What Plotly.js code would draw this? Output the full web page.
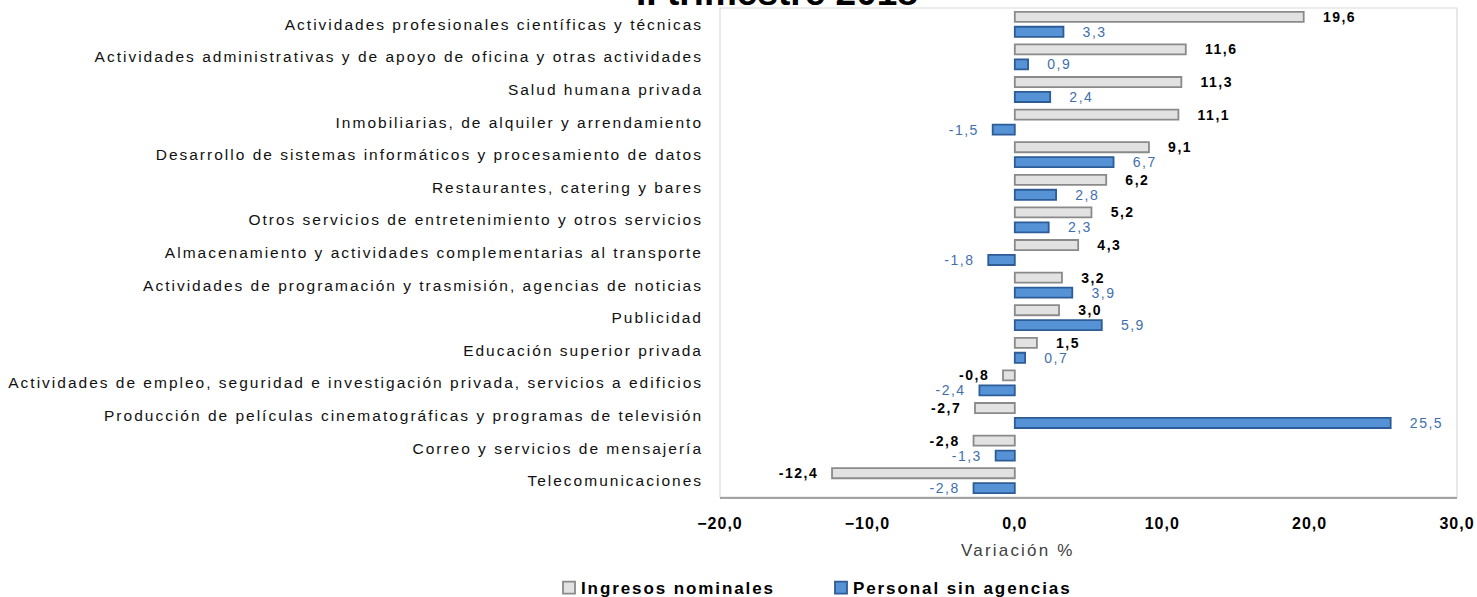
<!DOCTYPE html>
<html>
<head>
<meta charset="utf-8">
<script src="https://cdn.plot.ly/plotly-3.0.1.min.js"></script>
<style>
html,body{margin:0;padding:0;background:#fff;}
#chart{width:1477px;height:597px;}
.ytick text{letter-spacing:2px;}
.xtick text{letter-spacing:1px;}
.bartext{letter-spacing:1.5px;}
.legendtext{letter-spacing:1.9px;transform:translateX(-8px);}
.annotation-text{letter-spacing:2.2px;}
</style>
</head>
<body>
<div id="chart"></div>
<script>
const categories = [
  "Actividades profesionales científicas y técnicas",
  "Actividades administrativas y de apoyo de oficina y otras actividades",
  "Salud humana privada",
  "Inmobiliarias, de alquiler y arrendamiento",
  "Desarrollo de sistemas informáticos y procesamiento de datos",
  "Restaurantes, catering y bares",
  "Otros servicios de entretenimiento y otros servicios",
  "Almacenamiento y actividades complementarias al transporte",
  "Actividades de programación y trasmisión, agencias de noticias",
  "Publicidad",
  "Educación superior privada",
  "Actividades de empleo, seguridad e investigación privada, servicios a edificios",
  "Producción de películas cinematográficas y programas de televisión",
  "Correo y servicios de mensajería",
  "Telecomunicaciones"
];
const ingresosNominales = [19.6, 11.6, 11.3, 11.1, 9.1, 6.2, 5.2, 4.3, 3.2, 3.0, 1.5, -0.8, -2.7, -2.8, -12.4];
const personalSinAgencias = [3.3, 0.9, 2.4, -1.5, 6.7, 2.8, 2.3, -1.8, 3.9, 5.9, 0.7, -2.4, 25.5, -1.3, -2.8];
const xTickValues = [-20, -10, 0, 10, 20, 30];
const seriesNames = ["Ingresos nominales", "Personal sin agencias"];
const chartTitle = "II trimestre 2018";
const axisTitle = "Variación %";

function labelTemplates(vals){
  return vals.map(v => v >= 0 ? "   %{x:.1f}" : "%{x:.1f}  ");
}

const traces = [
  {
    type: "bar", orientation: "h", name: seriesNames[0],
    y: categories, x: ingresosNominales,
    marker: {color: "#e2e2e2", line: {color: "#8a8a8a", width: 1.8}},
    texttemplate: labelTemplates(ingresosNominales),
    textposition: "outside", constraintext: "none", cliponaxis: false,
    textfont: {family: "Arial, Liberation Sans, sans-serif", size: 14, color: "#000000", weight: "bold"},
    hoverinfo: "none"
  },
  {
    type: "bar", orientation: "h", name: seriesNames[1],
    y: categories, x: personalSinAgencias,
    marker: {color: "#5592d6", line: {color: "#2d5c96", width: 1.8}},
    texttemplate: labelTemplates(personalSinAgencias),
    textposition: "outside", constraintext: "none", cliponaxis: false,
    textfont: {family: "Arial, Liberation Sans, sans-serif", size: 14, color: "#3f6fac"},
    hoverinfo: "none"
  }
];

const layout = {
  width: 1477, height: 597,
  paper_bgcolor: "#ffffff", plot_bgcolor: "#ffffff",
  separators: ",.",
  margin: {l: 720, r: 20, t: 8, b: 100, pad: 0},
  font: {family: "Arial, Liberation Sans, sans-serif", color: "#000"},
  title: {
    text: chartTitle,
    font: {family: "Arial, Liberation Sans, sans-serif", size: 37, color: "#000", weight: "bold"},
    xref: "container", x: 777/1477, xanchor: "center",
    yref: "container", y: 1 - 5/597, yanchor: "bottom"
  },
  barmode: "group",
  bargap: 0.08,
  bargroupgap: 0.33,
  showlegend: true,
  legend: {
    orientation: "h",
    xref: "container", yref: "container",
    x: 549/1477, xanchor: "left",
    y: 9/597, yanchor: "middle",
    font: {family: "Arial, Liberation Sans, sans-serif", size: 17, color: "#000", weight: "bold"},
    entrywidth: 227, entrywidthmode: "pixels",
    itemwidth: 30,
    traceorder: "normal"
  },
  xaxis: {
    range: [-20, 30],
    tickvals: xTickValues,
    tickformat: ".1f",
    showgrid: false, zeroline: false,
    showline: true, linecolor: "#a3a3a3", linewidth: 2,
    ticks: "", ticklabelstandoff: 11,
    tickfont: {family: "Arial, Liberation Sans, sans-serif", size: 16, color: "#000", weight: "bold"},
    fixedrange: true
  },
  yaxis: {
    type: "category",
    autorange: "reversed",
    showgrid: false, zeroline: false, showline: false,
    ticks: "", ticklabelstandoff: 16,
    tickfont: {family: "Arial, Liberation Sans, sans-serif", size: 15.5, color: "#111"},
    fixedrange: true
  },
  yaxis2: {
    type: "category",
    overlaying: "y", matches: "y",
    anchor: "free", position: 0.4, side: "left",
    showline: true, linecolor: "#8c8c8c", linewidth: 2,
    ticks: "outside", ticklen: 4, tickcolor: "#8c8c8c", tickwidth: 1.5,
    tickson: "boundaries",
    showticklabels: false, showgrid: false, zeroline: false
  },
  shapes: [
    {type: "rect", xref: "paper", yref: "paper", x0: 0, x1: 1, y0: 0, y1: 1,
     line: {color: "#dadada", width: 1.2}, fillcolor: "rgba(0,0,0,0)", layer: "below"}
  ],
  annotations: [
    {text: axisTitle, xref: "paper", x: 0.405, xanchor: "center",
     yref: "paper", y: -53/489, yanchor: "middle", showarrow: false,
     font: {family: "Arial, Liberation Sans, sans-serif", size: 17, color: "#404040"}}
  ]
};

Plotly.newPlot("chart", traces, layout, {displayModeBar: false, staticPlot: true});
</script>
</body>
</html>
